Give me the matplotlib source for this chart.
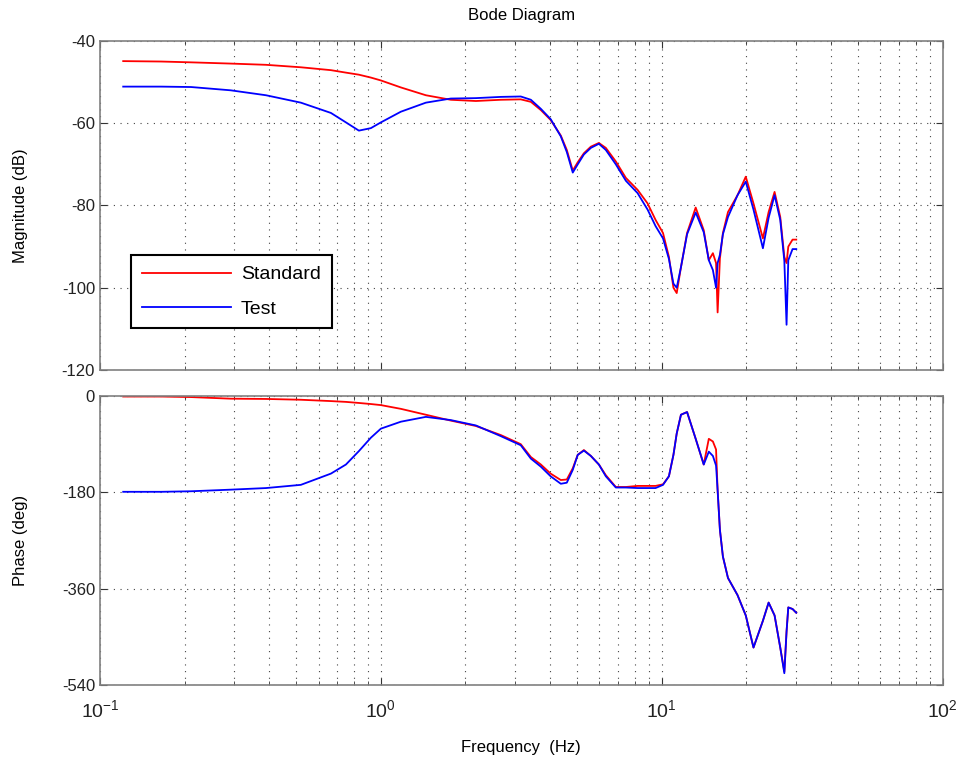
import numpy as np
import matplotlib
matplotlib.use("Agg")
import matplotlib.pyplot as plt
from matplotlib.ticker import LogLocator

plt.rcParams['font.family'] = ['Liberation Sans', 'DejaVu Sans']
plt.rcParams['mathtext.default'] = 'regular'
plt.rcParams['axes.unicode_minus'] = False

# frequency points (Hz)
freq = [0.121, 0.165, 0.211, 0.292, 0.390, 0.519, 0.664, 0.751, 0.835, 0.921,
        1.0, 1.178, 1.446, 1.774, 2.178, 2.673, 3.147, 3.419, 3.71, 4.02,
        4.37, 4.59, 4.82, 5.02, 5.28, 5.59, 5.97, 6.32, 6.86, 7.45,
        8.2, 8.9, 9.5, 10.1, 10.6, 11.0, 11.3, 11.7, 12.3, 13.2,
        14.1, 14.7, 15.2, 15.6, 15.8, 16.1, 16.5, 17.2, 18.6, 19.9,
        21.2, 22.9, 24.0, 25.2, 26.4, 27.3, 27.8, 28.2, 29.2, 30.1]

mag_std = [-44.9, -45.0, -45.2, -45.5, -45.8, -46.4, -47.1, -47.7, -48.2, -48.9,
           -49.6, -51.3, -53.2, -54.3, -54.6, -54.3, -54.2, -54.8, -56.8, -59.2,
           -63.0, -66.5, -71.5, -69.5, -67.3, -65.7, -64.8, -66.0, -69.3, -73.3,
           -76.2, -79.5, -83.5, -86.7, -92.5, -100.0, -101.3, -95.0, -86.7, -80.5,
           -86.0, -93.3, -91.6, -94.0, -106.0, -92.9, -86.7, -81.6, -77.5, -73.0,
           -79.5, -88.0, -81.6, -76.7, -82.8, -92.5, -94.0, -90.0, -88.3, -88.3]

mag_test = [-51.1, -51.1, -51.2, -52.0, -53.2, -55.0, -57.5, -59.8, -61.8, -61.2,
            -59.8, -57.2, -55.0, -54.0, -53.9, -53.6, -53.5, -54.3, -56.5, -59.0,
            -63.2, -67.0, -72.0, -70.0, -67.6, -66.0, -65.0, -66.5, -70.0, -74.0,
            -77.0, -81.0, -85.0, -88.0, -93.0, -99.0, -100.0, -95.0, -87.0, -81.7,
            -86.5, -93.3, -95.7, -100.0, -94.0, -92.0, -87.0, -82.8, -77.5, -74.2,
            -81.0, -90.4, -83.0, -77.5, -83.5, -93.5, -109.0, -93.3, -90.6, -90.6]

ph_std = [-1, -1, -2, -5, -5.5, -7, -9.5, -11, -13, -15,
          -17, -24, -35, -46, -56, -73, -90, -114, -128, -145,
          -157, -156, -135, -110, -101, -112, -128, -148, -170, -170,
          -168, -168, -168, -165, -150, -110, -70, -35, -30, -80,
          -128, -80, -85, -100, -176, -250, -300, -340, -372, -410,
          -470, -420, -386, -410, -470, -515, -440, -395, -398, -405]

ph_test = [-179, -179, -178, -175, -172, -166, -145, -128, -103, -78,
           -61, -48, -39, -45, -55, -75, -92, -117, -132, -150,
           -164, -162, -138, -110, -102, -112, -128, -150, -171, -171,
           -172, -172, -172, -166, -150, -110, -70, -35, -30, -80,
           -128, -104, -112, -130, -176, -250, -300, -340, -372, -410,
           -470, -420, -386, -410, -470, -518, -440, -395, -398, -405]

fig = plt.figure(figsize=(9.61, 7.67), dpi=100)
ax1 = fig.add_axes([0.104, 0.5176, 0.877, 0.429])
ax2 = fig.add_axes([0.104, 0.1069, 0.877, 0.3768])

ax1.plot(freq, mag_std, color='#ff0000', lw=1.3, label='Standard')
ax1.plot(freq, mag_test, color='#0000ff', lw=1.3, label='Test')
ax2.plot(freq, ph_std, color='#ff0000', lw=1.3)
ax2.plot(freq, ph_test, color='#0000ff', lw=1.3)

for ax in (ax1, ax2):
    ax.set_xscale('log')
    ax.set_xlim(0.1, 100)
    ax.xaxis.set_major_locator(LogLocator(base=10, numticks=10))
    ax.xaxis.set_minor_locator(LogLocator(base=10, subs=np.arange(2, 10), numticks=20))
    ax.grid(True, which='both', axis='x', color='#444444', linestyle=(0, (1, 5)), lw=0.8)
    ax.grid(True, which='major', axis='y', color='#444444', linestyle=(0, (1, 5)), lw=0.8)
    ax.tick_params(which='both', direction='in', top=True, right=True, colors='#333333',
                   labelsize=12, labelcolor='#222222')
    ax.tick_params(which='major', length=5)
    ax.tick_params(which='minor', length=3)
    for s in ax.spines.values():
        s.set_color('#808080')
        s.set_linewidth(1.2)

ax1.set_ylim(-120, -40)
ax1.set_yticks([-120, -100, -80, -60, -40])
ax1.tick_params(axis='x', labelbottom=False)
ax1.set_ylabel('Magnitude (dB)', fontsize=12, labelpad=24)
ax1.set_title('Bode Diagram', fontsize=12, pad=15)
leg = ax1.legend(loc='lower left', bbox_to_anchor=(0.037, 0.127), fontsize=14,
                 fancybox=False, framealpha=1, borderpad=0.55, handlelength=4.6,
                 labelspacing=0.85, borderaxespad=0, handletextpad=0.5)
leg.get_frame().set_edgecolor('black')
leg.get_frame().set_linewidth(1.5)

ax2.set_ylim(-540, 0)
ax2.set_yticks([-540, -360, -180, 0])
ax2.set_ylabel('Phase (deg)', fontsize=12, labelpad=24)
ax2.set_xlabel('Frequency  (Hz)', fontsize=12, labelpad=14)
ax2.tick_params(axis='x', labelsize=14, pad=10)

fig.savefig('out.png', dpi=100)
